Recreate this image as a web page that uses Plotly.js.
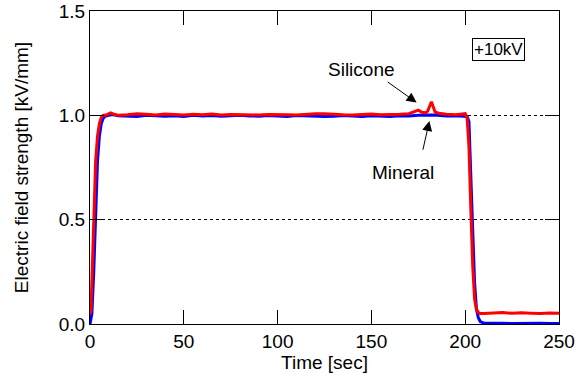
<!DOCTYPE html>
<html>
<head>
<meta charset="utf-8">
<script src="https://cdn.plot.ly/plotly-3.0.1.min.js"></script>
<style>html,body{margin:0;padding:0;background:#fff;}#chart{width:588px;height:383px;}</style>
</head>
<body>
<div id="chart"></div>
<script>
// Mineral oil (blue)
const mineralTime = [0,1,2,3,4,5,6,7,8,10,12,15,20,25,30,35,40,45,50,55,60,65,70,75,80,85,90,95,100,105,110,115,120,125,130,135,140,145,150,155,160,165,170,175,178,180,182,185,190,195,199,201,202,203,204,205,206,207,208,210,215,220,225,230,235,240,245,250];
const mineralValue = [0.0,0.05,0.25,0.55,0.78,0.9,0.96,0.985,0.995,1.0,1.004,0.998,0.996,0.995,1.0,0.997,0.996,0.998,0.995,1.0,0.997,0.999,0.996,0.998,1.0,0.997,0.996,0.999,0.998,0.995,0.999,0.997,0.998,0.994,0.996,0.999,0.997,0.995,0.998,0.997,0.995,0.998,0.997,1.0,1.002,1.003,1.001,1.0,0.997,0.998,0.998,0.995,0.97,0.75,0.45,0.2,0.07,0.03,0.012,0.004,0.002,0.003,0.002,0.003,0.002,0.003,0.002,0.002];

// Silicone oil (red)
const siliconeTime = [0,0.5,1,2,3,4,5,6,7,9,11,13,15,20,25,30,35,40,45,50,55,60,65,70,75,80,85,90,95,100,105,110,115,120,125,130,135,140,145,150,155,160,165,170,173,175,177,179,180,181,182,183,184,186,190,195,199,200,201,202,203,204,205,206,207,208,210,215,220,225,230,235,240,245,250];
const siliconeValue = [0.05,0.06,0.2,0.55,0.78,0.9,0.96,0.99,1.0,1.003,1.012,1.005,1.0,1.003,1.008,1.005,1.002,1.006,1.003,1.002,1.005,1.003,1.006,1.002,1.004,1.003,1.005,1.002,1.004,1.005,1.003,1.002,1.006,1.008,1.007,1.004,1.003,1.002,1.004,1.006,1.003,1.003,1.005,1.008,1.02,1.025,1.015,1.012,1.02,1.04,1.065,1.04,1.015,1.01,1.005,1.003,1.005,1.008,0.99,0.85,0.55,0.28,0.12,0.07,0.055,0.05,0.05,0.053,0.055,0.051,0.054,0.052,0.05,0.053,0.052];

const xTicks = [0,50,100,150,200,250];
const yTicks = [0,0.5,1.0,1.5];
const yTickLabels = ['0.0','0.5','1.0','1.5'];

const font = {family: 'Liberation Sans', size: 19, color: '#000'};

const traces = [
  {x: mineralTime, y: mineralValue, mode: 'lines', name: 'Mineral',
   line: {color: '#0000ff', width: 3}},
  {x: siliconeTime, y: siliconeValue, mode: 'lines', name: 'Silicone',
   line: {color: '#ff0000', width: 3}}
];

const layout = {
  width: 588, height: 383,
  margin: {l: 90, r: 29, t: 11, b: 59},
  paper_bgcolor: '#fff', plot_bgcolor: '#fff',
  showlegend: false,
  font: font,
  xaxis: {
    range: [0, 250], tickvals: xTicks, ticktext: xTicks.map(String),
    ticks: 'inside', ticklen: 14, tickwidth: 1, tickcolor: '#000',
    showline: true, linecolor: '#000', linewidth: 1, mirror: 'ticks',
    showgrid: false, zeroline: false,
    title: {text: 'Time [sec]', font: font, standoff: 0},
    tickfont: font
  },
  yaxis: {
    range: [0, 1.5], tickvals: yTicks, ticktext: yTickLabels,
    ticks: 'inside', ticklen: 14, tickwidth: 1, tickcolor: '#000',
    showline: true, linecolor: '#000', linewidth: 1, mirror: 'ticks',
    showgrid: true, gridcolor: '#000', gridwidth: 1, griddash: 'dot',
    zeroline: false,
    title: {text: 'Electric field strength [kV/mm]', font: font, standoff: 25},
    tickfont: font
  },
  annotations: [
    {x: 144.8, y: 1.221, xref: 'x', yref: 'y', text: 'Silicone', showarrow: false, font: font},
    {x: 167, y: 0.724, xref: 'x', yref: 'y', text: 'Mineral', showarrow: false, font: font},
    {x: 174.1, y: 1.061, xref: 'x', yref: 'y', ax: 157.9, ay: 1.165, axref: 'x', ayref: 'y',
     text: '', showarrow: true, arrowhead: 2, arrowsize: 2, arrowwidth: 1, arrowcolor: '#000'},
    {x: 180.9, y: 0.973, xref: 'x', yref: 'y', ax: 177.3, ay: 0.828, axref: 'x', ayref: 'y',
     text: '', showarrow: true, arrowhead: 2, arrowsize: 2, arrowwidth: 1, arrowcolor: '#000'},
    {x: 218, y: 1.315, xref: 'x', yref: 'y', text: '+10kV', showarrow: false,
     font: {family: 'Liberation Sans', size: 17, color: '#000'},
     bordercolor: '#000', borderwidth: 1, borderpad: 1, bgcolor: '#fff'}
  ]
};

Plotly.newPlot('chart', traces, layout, {displayModeBar: false, staticPlot: true});
</script>
</body>
</html>
